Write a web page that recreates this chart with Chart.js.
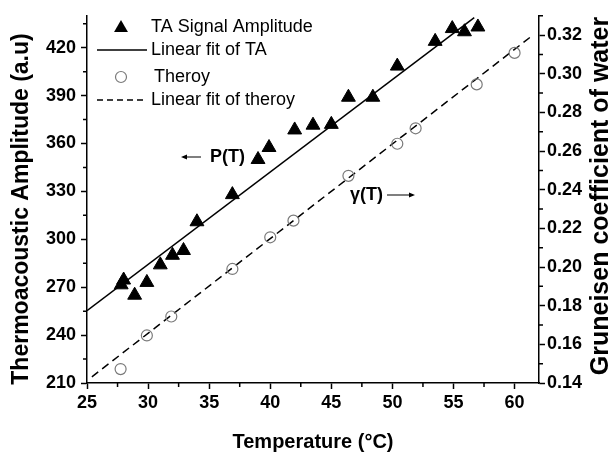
<!DOCTYPE html>
<html>
<head>
<meta charset="utf-8">
<script src="https://cdn.jsdelivr.net/npm/chart.js@4.4.1/dist/chart.umd.min.js"></script>
<style>
  html, body { margin: 0; padding: 0; background: #fff; }
  #wrap { width: 615px; height: 454px; }
</style>
</head>
<body>
<div id="wrap"><canvas id="grafico" width="615" height="454"></canvas></div>
<script>
// datos
const taTemp = [27.8, 28.0, 28.9, 29.9, 31.0, 32.0, 32.9, 34.0, 36.9, 39.0, 39.9, 42.0, 43.5, 45.0, 46.4, 48.4, 50.4, 53.5, 54.9, 55.9, 57.0];
const taAmp = [271.5, 274.5, 265, 273, 284, 290, 293, 311, 328, 350, 357.5, 368.5, 371.5, 372, 389, 389, 408.5, 424, 432, 430, 433];

const taFitTemp = [25, 56.7];
const taFitAmp = [255.3, 438.8];

const theoTemp = [27.75, 29.9, 31.9, 36.9, 40.0, 41.9, 46.4, 50.4, 51.9, 56.9, 60.0];
const theoGamma = [0.1472, 0.1646, 0.1744, 0.1990, 0.2154, 0.2240, 0.2472, 0.2638, 0.2718, 0.2945, 0.3108];

const theoFitTemp = [25.4, 61.4];
const theoFitGamma = [0.1432, 0.3195];

const seriesLabels = ['TA Signal Amplitude', 'Linear fit of TA', 'Theroy', 'Linear fit of theroy'];

const xTitle = 'Temperature (°C)';
const yTitle = 'Thermoacoustic Amplitude (a.u)';
const y1Title = 'Gruneisen coefficient of water';

const FONT = "'Liberation Sans', Arial, sans-serif";

function toPoints(xs, ys) {
    return xs.map((x, i) => ({ x: x, y: ys[i] }));
}

// ticks menores (sin etiqueta)
const minorTicks = {
    id: 'minorTicks',
    afterDraw(chart) {
        const ctx = chart.ctx;
        ctx.save();
        ctx.strokeStyle = '#000';
        ctx.lineWidth = 1.5;
        const len = 4;
        const sx = chart.scales.x, sy = chart.scales.y, sy1 = chart.scales.y1;
        ctx.beginPath();
        for (let v = 27.5; v < sx.max; v += 5) {
            const px = sx.getPixelForValue(v);
            ctx.moveTo(px, sx.top);
            ctx.lineTo(px, sx.top + len);
        }
        for (let v = 225; v < sy.max; v += 30) {
            const py = sy.getPixelForValue(v);
            ctx.moveTo(sy.right, py);
            ctx.lineTo(sy.right - len, py);
        }
        for (let v = 0.15; v < sy1.max + 0.001; v += 0.02) {
            const py = sy1.getPixelForValue(v);
            ctx.moveTo(sy1.left, py);
            ctx.lineTo(sy1.left + len, py);
        }
        ctx.stroke();
        ctx.restore();
    }
};

// leyenda dentro del area + anotaciones P(T), γ(T) + titulos de los ejes y
const leyendaYNotas = {
    id: 'leyendaYNotas',
    afterDraw(chart) {
        const ctx = chart.ctx;
        const ds = chart.data.datasets;
        ctx.save();
        const rows = [27, 50, 77, 100];
        const symX = 121, lineX0 = 97, lineX1 = 147, textX = 151;
        ctx.font = '18px ' + FONT;
        ctx.textBaseline = 'middle';
        ds.forEach((d, i) => {
            const y = rows[i];
            ctx.save();
            ctx.fillStyle = d.backgroundColor;
            ctx.strokeStyle = d.borderColor;
            ctx.lineWidth = d.borderWidth;
            ctx.beginPath();
            if (d.showLine) {
                ctx.setLineDash(d.borderDash ? [6, 4] : []);
                ctx.moveTo(lineX0, y);
                ctx.lineTo(lineX1, y);
                ctx.stroke();
            } else if (d.pointStyle === 'triangle') {
                const r = d.pointRadius;
                ctx.moveTo(symX, y + 1 - r);
                ctx.lineTo(symX + r * 0.866, y + 1 + r / 2);
                ctx.lineTo(symX - r * 0.866, y + 1 + r / 2);
                ctx.closePath();
                ctx.fill();
            } else {
                ctx.arc(symX, y, d.pointRadius, 0, Math.PI * 2);
                ctx.stroke();
            }
            ctx.restore();
            ctx.fillStyle = '#000';
            ctx.fillText(d.label, textX + (i === 2 ? 3 : 0), y);
        });

        // anotaciones
        ctx.font = 'bold 18px ' + FONT;
        ctx.fillText('P(T)', 210, 157);
        ctx.fillText('γ(T)', 350, 195);
        ctx.strokeStyle = '#000';
        ctx.lineWidth = 1.2;
        ctx.beginPath();
        ctx.moveTo(201, 157); ctx.lineTo(183, 157);
        ctx.moveTo(387, 195); ctx.lineTo(413, 195);
        ctx.stroke();
        ctx.beginPath();
        ctx.moveTo(181, 157); ctx.lineTo(187, 154.5); ctx.lineTo(187, 159.5); ctx.closePath();
        ctx.moveTo(415, 195); ctx.lineTo(409, 192.5); ctx.lineTo(409, 197.5); ctx.closePath();
        ctx.fill();

        // titulos de los ejes y (leidos de abajo hacia arriba)
        ctx.textAlign = 'center';
        ctx.save();
        ctx.font = 'bold 23px ' + FONT;
        ctx.translate(22, 209);
        ctx.rotate(-Math.PI / 2);
        ctx.fillText(yTitle, 0, 0);
        ctx.restore();
        ctx.font = 'bold 25px ' + FONT;
        ctx.translate(601, 196);
        ctx.rotate(-Math.PI / 2);
        ctx.fillText(y1Title, 0, 0);
        ctx.restore();
    }
};

const tickFont = { family: FONT, size: 18, weight: 'bold' };
const gridCfg = { display: true, drawOnChartArea: false, drawTicks: true, tickLength: 6, tickColor: '#000', tickWidth: 1.5 };
const borderCfg = { display: true, color: '#000', width: 1.5 };

const ctx = document.getElementById('grafico').getContext('2d');
new Chart(ctx, {
    type: 'scatter',
    data: {
        datasets: [
            {
                label: seriesLabels[0],
                data: toPoints(taTemp, taAmp),
                yAxisID: 'y',
                pointStyle: 'triangle',
                pointRadius: 8,
                backgroundColor: '#000',
                borderColor: '#000',
                borderWidth: 1,
                showLine: false
            },
            {
                label: seriesLabels[1],
                data: toPoints(taFitTemp, taFitAmp),
                yAxisID: 'y',
                showLine: true,
                borderColor: '#000',
                borderWidth: 1.5,
                pointRadius: 0,
                fill: false
            },
            {
                label: seriesLabels[2],
                data: toPoints(theoTemp, theoGamma),
                yAxisID: 'y1',
                pointStyle: 'circle',
                pointRadius: 5.5,
                backgroundColor: 'rgba(0,0,0,0)',
                borderColor: '#7a7a7a',
                borderWidth: 1.2,
                showLine: false
            },
            {
                label: seriesLabels[3],
                data: toPoints(theoFitTemp, theoFitGamma),
                yAxisID: 'y1',
                showLine: true,
                borderColor: '#000',
                borderWidth: 1.5,
                borderDash: [8, 5],
                pointRadius: 0,
                fill: false
            }
        ]
    },
    options: {
        responsive: false,
        animation: false,
        layout: { padding: { top: 13, left: 0, right: 0, bottom: 0 } },
        plugins: {
            legend: { display: false },
            tooltip: { enabled: false }
        },
        scales: {
            x: {
                type: 'linear',
                position: 'bottom',
                min: 25,
                max: 62,
                ticks: { stepSize: 5, includeBounds: false, font: tickFont, color: '#000', padding: 3, maxRotation: 0 },
                grid: gridCfg,
                border: borderCfg,
                title: { display: true, text: xTitle, color: '#000', font: { family: FONT, size: 20, weight: 'bold' }, padding: 0 },
                afterFit(scale) { scale.height = 71; }
            },
            y: {
                type: 'linear',
                position: 'left',
                min: 210,
                max: 440,
                ticks: { stepSize: 30, includeBounds: false, font: tickFont, color: '#000', padding: 5 },
                grid: gridCfg,
                border: borderCfg,
                afterFit(scale) { scale.width = 87; }
            },
            y1: {
                type: 'linear',
                position: 'right',
                min: 0.14,
                max: 0.33,
                ticks: {
                    stepSize: 0.02, includeBounds: false, font: tickFont, color: '#000', padding: 2,
                    callback: (v) => v.toFixed(2)
                },
                grid: gridCfg,
                border: borderCfg,
                afterFit(scale) { scale.width = 76; }
            }
        }
    },
    plugins: [minorTicks, leyendaYNotas]
});
</script>
</body>
</html>
